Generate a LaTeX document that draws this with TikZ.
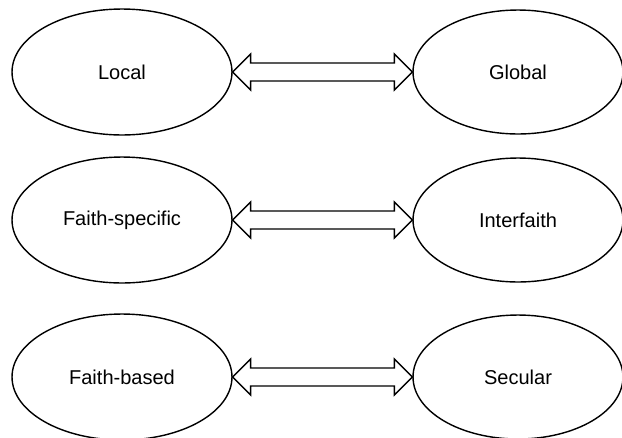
\documentclass[tikz,border=0pt]{standalone}
\usepackage{fontspec}
\setmainfont{Liberation Sans}
\usetikzlibrary{shapes.geometric}
\begin{document}
\begin{tikzpicture}[x=0.02cm,y=-0.02cm,font=\fontsize{11.4}{13}\selectfont,line width=0.8pt,
  pole/.style={draw,ellipse,minimum width=4.4cm,minimum height=2.52cm}]
  \useasboundingbox (0,0) rectangle (622,437);
  \foreach [count=\Z] \Y/\A/\B in {72/Local/Global,220/Faith-specific/Interfaith,377/Faith-based/Secular}
  {\node[pole] (L\Z) at (122,\Y) {\A};
   \node[pole,minimum width=4.2cm,minimum height=2.48cm] (R\Z) at (518,\Y) {\B};
   \draw (L\Z.east) -- ([shift={(18,-18)}]L\Z.east) -- ([shift={(18,-9)}]L\Z.east)
     -- ([shift={(-18,-9)}]R\Z.west) -- ([shift={(-18,-18)}]R\Z.west) -- (R\Z.west)
     -- ([shift={(-18,18)}]R\Z.west) -- ([shift={(-18,9)}]R\Z.west)
     -- ([shift={(18,9)}]L\Z.east) -- ([shift={(18,18)}]L\Z.east) -- cycle;}
\end{tikzpicture}
\end{document}
